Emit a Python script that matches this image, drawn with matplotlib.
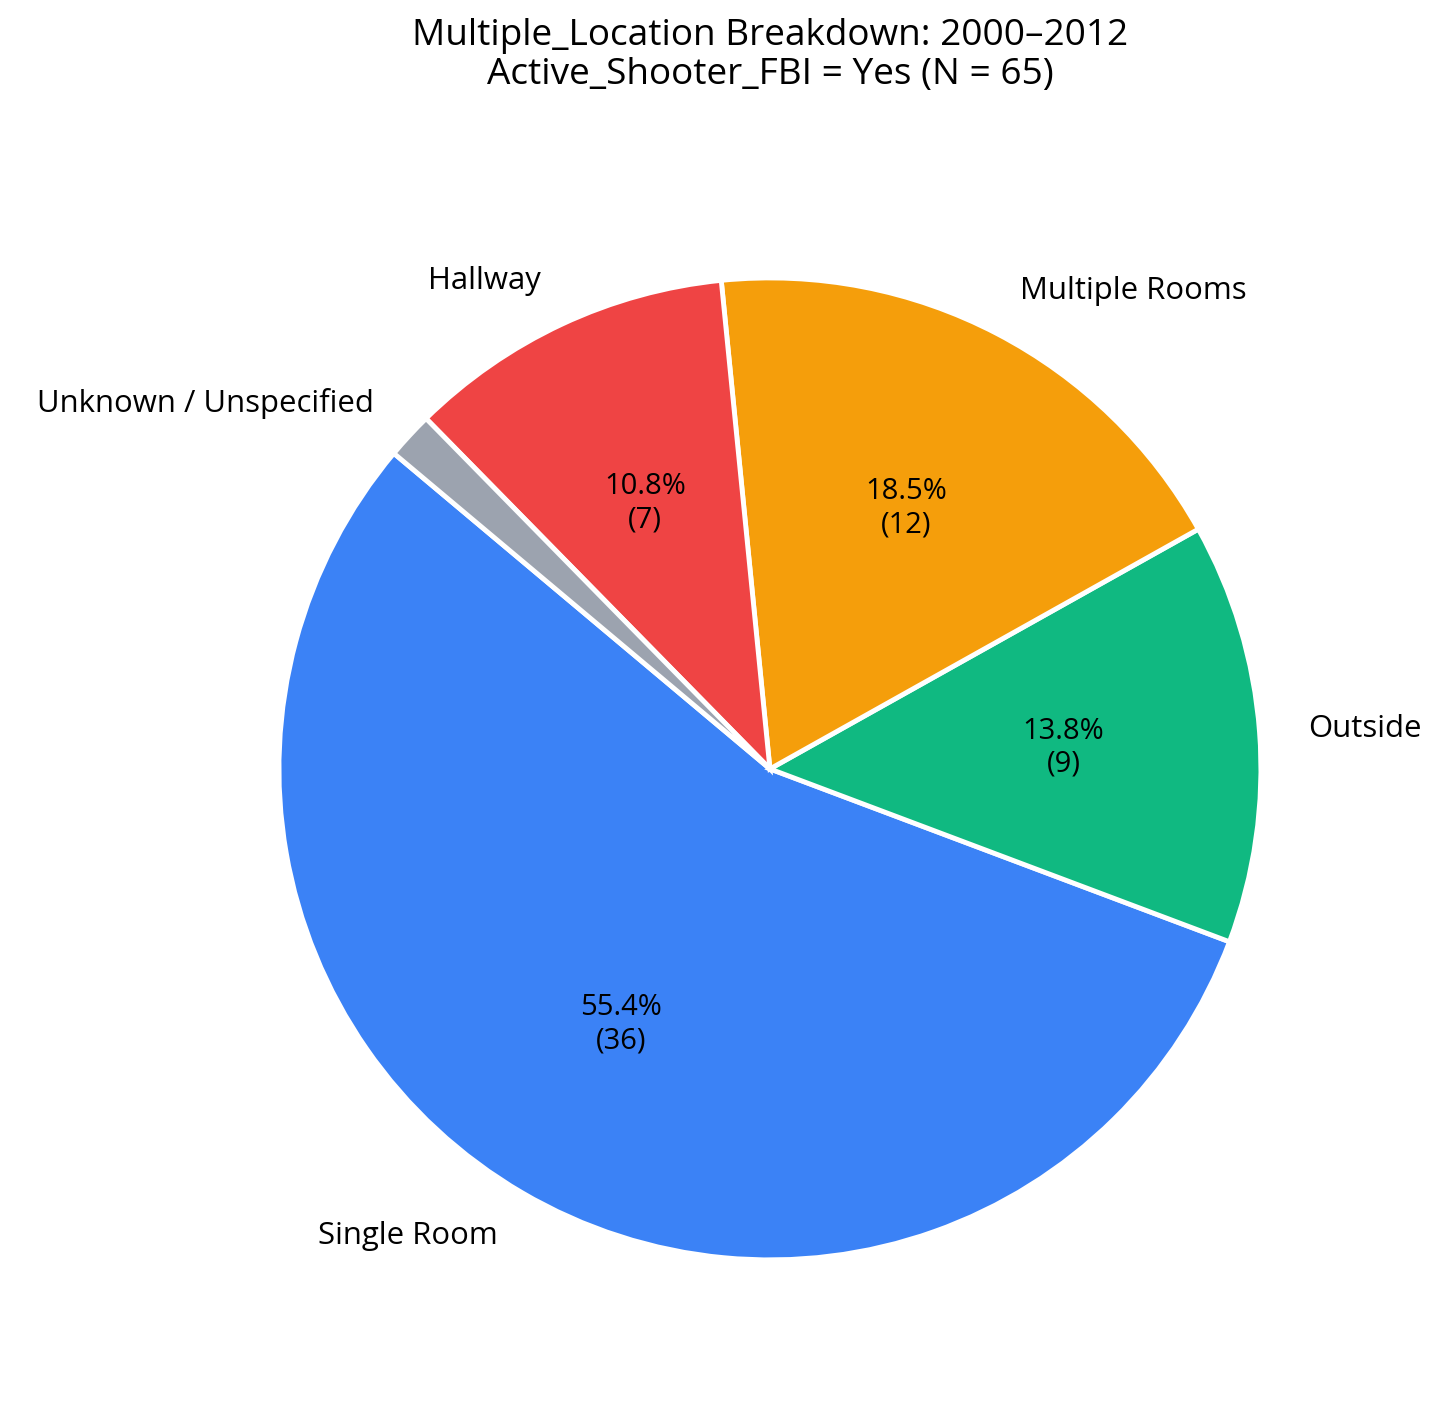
import matplotlib
matplotlib.use("Agg")
import matplotlib.pyplot as plt

labels = ["Single Room", "Outside", "Multiple Rooms", "Hallway", "Unknown / Unspecified"]
counts = [36, 9, 12, 7, 1]
colors = ["#3B82F6", "#10B981", "#F59E0B", "#EF4444", "#9CA3AF"]

plt.rcParams["font.family"] = ["Open Sans", "DejaVu Sans"]

total = sum(counts)


def fmt(pct):
    # small slices get no percentage text
    if pct < 3:
        return ""
    n = int(round(pct * total / 100.0))
    return "{:.1f}%\n({})".format(pct, n)


fig = plt.figure(figsize=(10.4, 10.057), dpi=140)
ax = fig.add_axes([0.1073, 0.0172, 0.843, 0.872])
wedges, texts, autotexts = ax.pie(
    counts, labels=labels, colors=colors, startangle=140,
    autopct=fmt, pctdistance=0.6, labeldistance=1.1,
    wedgeprops=dict(edgecolor="white", linewidth=2.5),
    textprops=dict(fontsize=16),
)
for t in autotexts:
    t.set_fontsize(15)
ax.set_aspect("equal")

fig.text(0.529, 0.987, "Multiple_Location Breakdown: 2000\u20132012\nActive_Shooter_FBI = Yes (N = 65)",
         ha="center", va="top", fontsize=19, linespacing=1.1)

fig.savefig("out.png", dpi=140)
